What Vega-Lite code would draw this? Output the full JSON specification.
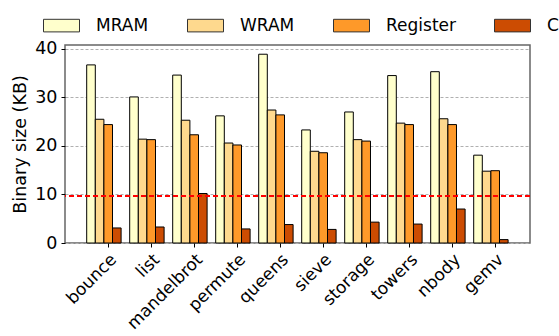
{
  "$schema": "https://vega.github.io/schema/vega-lite/v6.json",
  "width": 465,
  "height": 198,
  "autosize": {"type": "none"},
  "padding": {"left": 65, "top": 45, "right": 29, "bottom": 93},
  "config": {
    "font": "DejaVu Sans",
    "view": {"stroke": "#666", "strokeWidth": 1.5},
    "axis": {"labelColor": "black", "titleColor": "black", "tickColor": "black", "domain": false, "labelFontSize": 17.5, "titleFontSize": 17.5, "titleFontWeight": "normal", "tickSize": 4}
  },
  "data": {"values": [
    {"bench": "bounce", "mem": "MRAM", "size": 36.7},
    {"bench": "bounce", "mem": "WRAM", "size": 25.5},
    {"bench": "bounce", "mem": "Register", "size": 24.4},
    {"bench": "bounce", "mem": "C", "size": 3.1},
    {"bench": "list", "mem": "MRAM", "size": 30.1},
    {"bench": "list", "mem": "WRAM", "size": 21.4},
    {"bench": "list", "mem": "Register", "size": 21.3},
    {"bench": "list", "mem": "C", "size": 3.3},
    {"bench": "mandelbrot", "mem": "MRAM", "size": 34.6},
    {"bench": "mandelbrot", "mem": "WRAM", "size": 25.3},
    {"bench": "mandelbrot", "mem": "Register", "size": 22.3},
    {"bench": "mandelbrot", "mem": "C", "size": 10.2},
    {"bench": "permute", "mem": "MRAM", "size": 26.2},
    {"bench": "permute", "mem": "WRAM", "size": 20.6},
    {"bench": "permute", "mem": "Register", "size": 20.2},
    {"bench": "permute", "mem": "C", "size": 2.9},
    {"bench": "queens", "mem": "MRAM", "size": 38.9},
    {"bench": "queens", "mem": "WRAM", "size": 27.4},
    {"bench": "queens", "mem": "Register", "size": 26.4},
    {"bench": "queens", "mem": "C", "size": 3.8},
    {"bench": "sieve", "mem": "MRAM", "size": 23.3},
    {"bench": "sieve", "mem": "WRAM", "size": 18.9},
    {"bench": "sieve", "mem": "Register", "size": 18.6},
    {"bench": "sieve", "mem": "C", "size": 2.8},
    {"bench": "storage", "mem": "MRAM", "size": 27.0},
    {"bench": "storage", "mem": "WRAM", "size": 21.3},
    {"bench": "storage", "mem": "Register", "size": 21.0},
    {"bench": "storage", "mem": "C", "size": 4.3},
    {"bench": "towers", "mem": "MRAM", "size": 34.5},
    {"bench": "towers", "mem": "WRAM", "size": 24.7},
    {"bench": "towers", "mem": "Register", "size": 24.4},
    {"bench": "towers", "mem": "C", "size": 3.9},
    {"bench": "nbody", "mem": "MRAM", "size": 35.3},
    {"bench": "nbody", "mem": "WRAM", "size": 25.6},
    {"bench": "nbody", "mem": "Register", "size": 24.4},
    {"bench": "nbody", "mem": "C", "size": 7.0},
    {"bench": "gemv", "mem": "MRAM", "size": 18.1},
    {"bench": "gemv", "mem": "WRAM", "size": 14.8},
    {"bench": "gemv", "mem": "Register", "size": 14.9},
    {"bench": "gemv", "mem": "C", "size": 0.7}
  ]},
  "layer": [
    {
      "mark": {"type": "bar", "stroke": "black", "strokeWidth": 1},
      "encoding": {
        "x": {
          "field": "bench", "type": "nominal", "sort": null, "title": null,
          "scale": {"paddingInner": 0, "paddingOuter": 0.407, "align": 0.62},
          "axis": {"labelAngle": -45, "labelAlign": "right", "labelBaseline": "top", "labelPadding": 4, "labelDx": -10, "labelDy": 1, "labelFontSize": 17}
        },
        "xOffset": {
          "field": "mem", "type": "nominal",
          "scale": {"domain": ["MRAM", "WRAM", "Register", "C", "pad"], "paddingInner": 0, "paddingOuter": 0}
        },
        "y": {
          "field": "size", "type": "quantitative", "title": "Binary size (KB)",
          "scale": {"domain": [0, 40.8], "nice": false, "zero": true},
          "axis": {"values": [0, 10, 20, 30, 40], "grid": true, "gridColor": "#b0b0b0", "gridDash": [3, 2], "gridWidth": 1, "titlePadding": 5, "labelPadding": 4}
        },
        "color": {
          "field": "mem", "type": "nominal",
          "scale": {"domain": ["MRAM", "WRAM", "Register", "C"], "range": ["#ffffcc", "#fed98e", "#fe9929", "#cc4c02"]},
          "legend": {
            "title": null, "orient": "none", "direction": "horizontal",
            "legendX": -22, "legendY": -38,
            "symbolType": "M-1,-0.35H1V0.35H-1Z", "symbolSize": 1296,
            "symbolStrokeColor": "#333", "symbolStrokeWidth": 1,
            "labelFontSize": 17, "labelColor": "black", "labelOffset": 16,
            "columnPadding": 36
          }
        }
      }
    },
    {
      "mark": {"type": "rule", "color": "red", "strokeDash": [5, 3], "strokeWidth": 1.2},
      "encoding": {"y": {"datum": 9.77}}
    }
  ]
}
